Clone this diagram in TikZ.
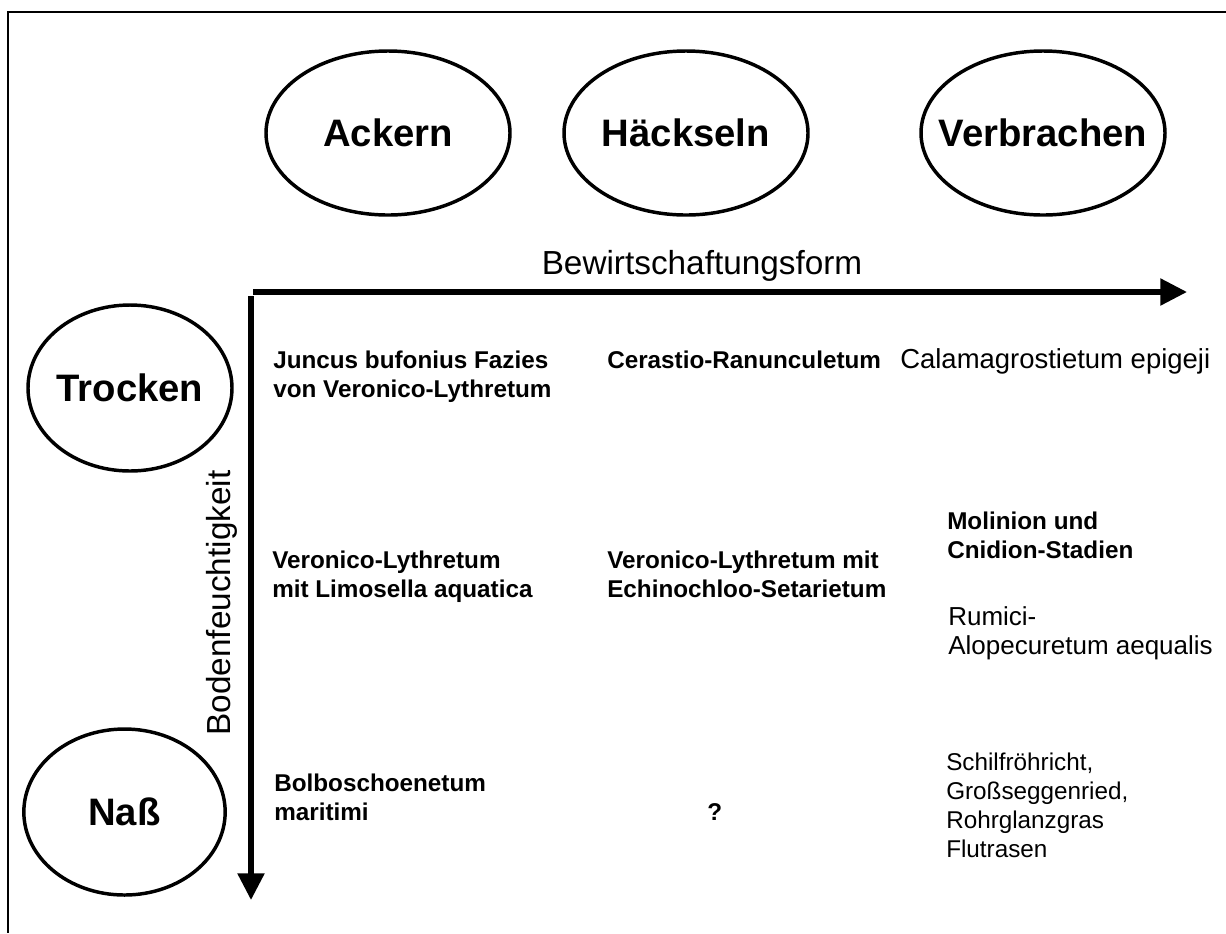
\documentclass[tikz,border=0pt]{standalone}
\usepackage{fontspec}
\setmainfont{Liberation Sans}
\usetikzlibrary{shapes.geometric,arrows.meta}
\tikzset{
  rund/.style={draw, ellipse, line width=2.6pt, inner xsep=-20pt, inner ysep=0pt,
    font=\fontsize{28.7}{33}\selectfont\bfseries},
  achse/.style={line width=4pt, -{Triangle[length=20pt,width=19.5pt]}},
  feld/.style={anchor=base west, align=left, inner sep=0pt,
    font=\fontsize{18.2}{21.75}\selectfont\bfseries},
  feldn/.style={feld, font=\fontsize{18.2}{21.75}\selectfont},
}
\begin{document}
\begin{tikzpicture}[x=0.75pt,y=-0.75pt]
  \useasboundingbox (0,0) rectangle (1226,933);
  \draw[line width=1.8pt] (1226,12) -- (8,12) -- (8,933);
  % Bewirtschaftung
  \foreach \x/\n/\t in {388/ack/Ackern,686/hae/Häckseln,1043/verb/Verbrachen} {
    \node[rund, minimum width=183pt, minimum height=123pt] (\n) at (\x,133) {\t};
  }
  \node[rund, minimum width=153pt, minimum height=124.5pt] (tro) at (130,388) {Trocken};
  \node[rund, minimum width=151pt, minimum height=124.5pt] (nass) at (124.5,812) {Naß};
  % Achsen
  \coordinate (ox) at (253,292);
  \coordinate (oy) at (251,296);
  \coordinate (xe) at (1187,292);
  \coordinate (ye) at (251,900);
  \draw[achse] (ox) -- (xe);
  \draw[achse] (oy) -- (ye);
  \node[font=\fontsize{25}{30}\selectfont, anchor=base] (bew) at (702,274) {Bewirtschaftungsform};
  \node[font=\fontsize{25}{30}\selectfont, anchor=base, rotate=90] (bod) at (230,603) {Bodenfeuchtigkeit};
  % Gesellschaften (base = letzte Zeile)
  \node[feld] (jun) at (273,397) {Juncus bufonius Fazies\\von Veronico-Lythretum};
  \node[feld] (cer) at (607,368) {Cerastio-Ranunculetum};
  \node[feldn, font=\fontsize{20.6}{25}\selectfont] (cal) at (900,368) {Calamagrostietum epigeji};
  \node[feld] (vlim) at (272,597) {Veronico-Lythretum\\mit Limosella aquatica};
  \node[feld] (vech) at (607,597) {Veronico-Lythretum mit\\Echinochloo-Setarietum};
  \node[feld] (mol) at (947,558) {Molinion und\\Cnidion-Stadien};
  \node[feldn, font=\fontsize{19.5}{21.75}\selectfont] (rum) at (948,654) {Rumici-\\Alopecuretum aequalis};
  \node[feld] (bol) at (274,820) {Bolboschoenetum\\maritimi};
  \node[feld] (q) at (707,820) {?};
  \node[feldn] (sch) at (946,857) {Schilfröhricht,\\Großseggenried,\\Rohrglanzgras\\Flutrasen};
\end{tikzpicture}
\end{document}
